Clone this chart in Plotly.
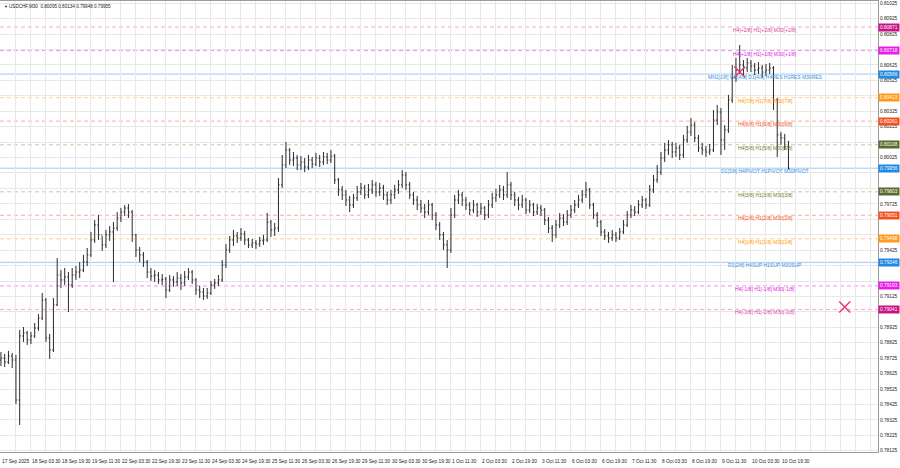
import plotly.graph_objects as go

# ---------------- data (USDCHF, candles of 4 x M30 bars) ----------------
first_open = 0.78713
closes = [
    0.78726, 0.78700, 0.78739, 0.78713, 0.78454, 0.78869, 0.78889, 0.78843, 0.78869, 0.78920,
    0.78985, 0.79102, 0.78856, 0.78778, 0.79070, 0.79264, 0.79232, 0.79251, 0.79200, 0.79264,
    0.79283, 0.79296, 0.79348, 0.79394, 0.79491, 0.79588, 0.79524, 0.79459, 0.79524, 0.79543,
    0.79568, 0.79633, 0.79672, 0.79698, 0.79672, 0.79524, 0.79426, 0.79394, 0.79348, 0.79283,
    0.79257, 0.79264, 0.79232, 0.79238, 0.79167, 0.79232, 0.79219, 0.79244, 0.79213, 0.79251,
    0.79283, 0.79232, 0.79167, 0.79154, 0.79128, 0.79148, 0.79200, 0.79213, 0.79232, 0.79329,
    0.79426, 0.79491, 0.79517, 0.79504, 0.79530, 0.79491, 0.79459, 0.79472, 0.79465, 0.79485,
    0.79491, 0.79607, 0.79556, 0.79568, 0.79848, 0.79977, 0.80074, 0.80009, 0.80022, 0.79977,
    0.79996, 0.79964, 0.80009, 0.79983, 0.80022, 0.79996, 0.80029, 0.80009, 0.80035, 0.79880,
    0.79815, 0.79783, 0.79750, 0.79718, 0.79763, 0.79802, 0.79828, 0.79783, 0.79815, 0.79848,
    0.79802, 0.79828, 0.79783, 0.79750, 0.79783, 0.79815, 0.79848, 0.79912, 0.79848, 0.79783,
    0.79750, 0.79718, 0.79698, 0.79672, 0.79718, 0.79653, 0.79588, 0.79524, 0.79459, 0.79426,
    0.79653, 0.79750, 0.79783, 0.79750, 0.79718, 0.79685, 0.79718, 0.79672, 0.79698, 0.79653,
    0.79718, 0.79763, 0.79783, 0.79815, 0.79783, 0.79848, 0.79783, 0.79750, 0.79718, 0.79750,
    0.79685, 0.79718, 0.79672, 0.79698, 0.79685, 0.79620, 0.79568, 0.79524, 0.79588, 0.79633,
    0.79607, 0.79653, 0.79685, 0.79718, 0.79750, 0.79783, 0.79815, 0.79718, 0.79653, 0.79607,
    0.79543, 0.79517, 0.79504, 0.79524, 0.79504, 0.79543, 0.79588, 0.79653, 0.79685, 0.79672,
    0.79718, 0.79750, 0.79718, 0.79815, 0.79880, 0.79931, 0.80022, 0.80074, 0.80107, 0.80061,
    0.80087, 0.80042, 0.80139, 0.80191, 0.80236, 0.80152, 0.80087, 0.80074, 0.80061, 0.80074,
    0.80268, 0.80320, 0.80139, 0.80204, 0.80398, 0.80541, 0.80592, 0.80625, 0.80605, 0.80638,
    0.80618, 0.80592, 0.80605, 0.80579, 0.80592, 0.80605, 0.80398, 0.80172, 0.80152, 0.80095,
    0.79955,
]
highs = [
    0.78765, 0.78752, 0.78772, 0.78759, 0.78746, 0.78908, 0.78927, 0.78902, 0.78895, 0.78953,
    0.79011, 0.79148, 0.79115, 0.78882, 0.79115, 0.79374, 0.79296, 0.79309, 0.79283, 0.79309,
    0.79322, 0.79348, 0.79394, 0.79439, 0.79543, 0.79620, 0.79653, 0.79517, 0.79556, 0.79581,
    0.79607, 0.79672, 0.79698, 0.79717, 0.79724, 0.79685, 0.79530, 0.79446, 0.79413, 0.79361,
    0.79309, 0.79296, 0.79283, 0.79270, 0.79251, 0.79264, 0.79257, 0.79283, 0.79270, 0.79290,
    0.79309, 0.79296, 0.79244, 0.79193, 0.79180, 0.79180, 0.79226, 0.79238, 0.79264, 0.79361,
    0.79465, 0.79517, 0.79556, 0.79543, 0.79568, 0.79550, 0.79504, 0.79498, 0.79491, 0.79511,
    0.79524, 0.79666, 0.79620, 0.79601, 0.79893, 0.80042, 0.80126, 0.80087, 0.80061, 0.80042,
    0.80035, 0.80022, 0.80042, 0.80029, 0.80055, 0.80042, 0.80061, 0.80055, 0.80074, 0.80048,
    0.79893, 0.79841, 0.79815, 0.79776, 0.79789, 0.79841, 0.79861, 0.79848, 0.79854, 0.79880,
    0.79867, 0.79861, 0.79848, 0.79802, 0.79815, 0.79848, 0.79880, 0.79944, 0.79931, 0.79867,
    0.79802, 0.79776, 0.79750, 0.79724, 0.79750, 0.79731, 0.79672, 0.79607, 0.79543, 0.79491,
    0.79698, 0.79783, 0.79815, 0.79802, 0.79770, 0.79737, 0.79750, 0.79731, 0.79731, 0.79711,
    0.79750, 0.79796, 0.79822, 0.79848, 0.79841, 0.79931, 0.79867, 0.79802, 0.79770, 0.79783,
    0.79763, 0.79750, 0.79731, 0.79724, 0.79718, 0.79698, 0.79640, 0.79588, 0.79620, 0.79666,
    0.79659, 0.79685, 0.79718, 0.79750, 0.79783, 0.79815, 0.79867, 0.79828, 0.79731, 0.79672,
    0.79620, 0.79562, 0.79543, 0.79556, 0.79543, 0.79568, 0.79620, 0.79679, 0.79718, 0.79711,
    0.79750, 0.79776, 0.79763, 0.79848, 0.79912, 0.79977, 0.80061, 0.80120, 0.80139, 0.80126,
    0.80120, 0.80107, 0.80172, 0.80230, 0.80281, 0.80255, 0.80172, 0.80120, 0.80100, 0.80113,
    0.80333, 0.80366, 0.80346, 0.80236, 0.80431, 0.80625, 0.80670, 0.80754, 0.80657, 0.80670,
    0.80657, 0.80638, 0.80644, 0.80625, 0.80631, 0.80638, 0.80618, 0.80411, 0.80191, 0.80178,
    0.80134,
]
lows = [
    0.78674, 0.78668, 0.78687, 0.78661, 0.78428, 0.78292, 0.78830, 0.78811, 0.78817, 0.78856,
    0.78902, 0.78972, 0.78830, 0.78720, 0.78765, 0.79063, 0.79180, 0.79200, 0.79024, 0.79180,
    0.79232, 0.79244, 0.79283, 0.79322, 0.79381, 0.79472, 0.79491, 0.79420, 0.79439, 0.79485,
    0.79219, 0.79550, 0.79607, 0.79646, 0.79633, 0.79478, 0.79381, 0.79348, 0.79316, 0.79244,
    0.79226, 0.79219, 0.79206, 0.79200, 0.79115, 0.79154, 0.79187, 0.79193, 0.79167, 0.79193,
    0.79232, 0.79206, 0.79135, 0.79115, 0.79102, 0.79109, 0.79135, 0.79174, 0.79193, 0.79219,
    0.79309, 0.79407, 0.79452, 0.79472, 0.79485, 0.79459, 0.79439, 0.79439, 0.79433, 0.79446,
    0.79459, 0.79478, 0.79511, 0.79517, 0.79543, 0.79828, 0.79957, 0.79977, 0.79970, 0.79944,
    0.79944, 0.79931, 0.79944, 0.79957, 0.79970, 0.79964, 0.79977, 0.79983, 0.79990, 0.79854,
    0.79776, 0.79750, 0.79711, 0.79672, 0.79698, 0.79744, 0.79783, 0.79757, 0.79763, 0.79789,
    0.79770, 0.79776, 0.79750, 0.79718, 0.79724, 0.79757, 0.79789, 0.79828, 0.79815, 0.79757,
    0.79718, 0.79685, 0.79666, 0.79633, 0.79653, 0.79620, 0.79556, 0.79491, 0.79426, 0.79309,
    0.79407, 0.79633, 0.79724, 0.79711, 0.79685, 0.79653, 0.79666, 0.79640, 0.79653, 0.79620,
    0.79633, 0.79698, 0.79737, 0.79763, 0.79750, 0.79763, 0.79750, 0.79711, 0.79685, 0.79698,
    0.79659, 0.79666, 0.79646, 0.79653, 0.79646, 0.79588, 0.79536, 0.79478, 0.79504, 0.79568,
    0.79581, 0.79588, 0.79633, 0.79666, 0.79698, 0.79731, 0.79763, 0.79692, 0.79627, 0.79575,
    0.79517, 0.79491, 0.79472, 0.79485, 0.79478, 0.79491, 0.79530, 0.79575, 0.79633, 0.79646,
    0.79659, 0.79698, 0.79692, 0.79705, 0.79796, 0.79861, 0.79912, 0.79996, 0.80042, 0.80022,
    0.80029, 0.80009, 0.80022, 0.80120, 0.80165, 0.80126, 0.80061, 0.80042, 0.80029, 0.80042,
    0.80061, 0.80236, 0.80042, 0.80074, 0.80185, 0.80379, 0.80515, 0.80567, 0.80560, 0.80579,
    0.80579, 0.80560, 0.80567, 0.80541, 0.80554, 0.80567, 0.80333, 0.80029, 0.80107, 0.80074,
    0.79948,
]
M30_PER_CANDLE = 4

x_labels = ["17 Sep 2025", "18 Sep 03:30", "18 Sep 19:30", "19 Sep 11:30", "22 Sep 03:30",
            "22 Sep 19:30", "23 Sep 11:30", "24 Sep 03:30", "24 Sep 19:30", "25 Sep 11:30",
            "26 Sep 03:30", "26 Sep 19:30", "29 Sep 11:30", "30 Sep 03:30", "30 Sep 19:30",
            "1 Oct 11:30", "2 Oct 03:30", "2 Oct 19:30", "3 Oct 11:30", "6 Oct 03:30",
            "6 Oct 19:30", "7 Oct 11:30", "8 Oct 03:30", "8 Oct 19:30", "9 Oct 11:30",
            "10 Oct 03:30", "10 Oct 19:30"]
M30_PER_LABEL = 32

price_grid = [0.78125, 0.78225, 0.78325, 0.78425, 0.78525, 0.78625, 0.78725, 0.78825,
              0.78925, 0.79025, 0.79125, 0.79225, 0.79325, 0.79425, 0.79525, 0.79625,
              0.79725, 0.79825, 0.79925, 0.80025, 0.80125, 0.80225, 0.80325, 0.80425,
              0.80525, 0.80625, 0.80725, 0.80825, 0.80925, 0.81025]

level_names = ["H4[+2/8] H1[+2/8] M30[+2/8]", "H4[+1/8] H1[+1/8] M30[+1/8]",
               "MN1[1/8] W1[4/8] D1[4/8] H4RES H1RES M30RES",
               "H4[7/8] H1[7/8] M30[7/8]", "H4[6/8] H1[6/8] M30[6/8]", "H4[5/8] H1[5/8] M30[5/8]",
               "D1[3/8] H4PIVOT H1PIVOT M30PIVOT",
               "H4[3/8] H1[3/8] M30[3/8]", "H4[2/8] H1[2/8] M30[2/8]", "H4[1/8] H1[1/8] M30[1/8]",
               "D1[2/8] H4SUP H1SUP M30SUP",
               "H4[-1/8] H1[-1/8] M30[-1/8]", "H4[-2/8] H1[-2/8] M30[-2/8]"]
level_prices = [0.80871, 0.80718, 0.80566, 0.80413, 0.80261, 0.80108, 0.79956,
                0.79803, 0.79651, 0.79498, 0.79346, 0.79193, 0.79041]
level_kinds = ["pink", "magenta", "blue", "orange", "red", "olive", "blue",
               "olive", "red", "orange", "blue", "magenta", "pink"]

signal_bars = [788, 900]
signal_prices = [0.80579, 0.79057]

title_text = "USDCHF,M30  0.80095 0.80134 0.79948 0.79955"

# ---------------- styles ----------------
STYLE = {
    "pink":    dict(line="#f4a6cf", dash="4px,3px", text="#e0409a", box="#c71585"),
    "magenta": dict(line="#f08cf0", dash="4px,3px", text="#e020e0", box="#e81ee8"),
    "blue":    dict(line="#9ec9f2", dash="solid",   text="#3a8fe0", box="#1e88e5"),
    "orange":  dict(line="#ffcf9a", dash="4px,3px", text="#ff9800", box="#ff9a1a"),
    "red":     dict(line="#ffad9a", dash="4px,3px", text="#f4511e", box="#f4511e"),
    "olive":   dict(line="#c9c9a6", dash="4px,3px", text="#6b7f2a", box="#5b6b2f"),
}
FONT = "Liberation Sans, Arial, sans-serif"
FS = 4.8
GRID = "#e8e8e8"

opens = [first_open] + closes[:-1]
bar_x = [k * M30_PER_CANDLE for k in range(len(closes))]

# price labels hidden under the level boxes (as the terminal does)
shown_ticks = [t for t in price_grid if min(abs(t - p) for p in level_prices) > 0.00035]

fig = go.Figure()
fig.add_trace(go.Ohlc(
    x=bar_x, open=opens, high=highs, low=lows, close=closes,
    increasing=dict(line=dict(color="#2a2a2a", width=1)),
    decreasing=dict(line=dict(color="#2a2a2a", width=1)),
    tickwidth=0.3, hoverinfo="skip", showlegend=False,
))

fig.add_trace(go.Scatter(
    x=signal_bars, y=signal_prices, mode="markers",
    marker=dict(symbol="x-thin", size=11, line=dict(width=1.4, color="#e8336d")),
    hoverinfo="skip", showlegend=False,
))

for name, price, kind in zip(level_names, level_prices, level_kinds):
    st = STYLE[kind]
    fig.add_shape(type="line", xref="paper", x0=0, x1=1, yref="y", y0=price, y1=price,
                  line=dict(color=st["line"], width=1, dash=st["dash"]), layer="below")
    fig.add_annotation(x=815, y=price, xref="x", yref="y", text=name, showarrow=False,
                       xanchor="center", yanchor="middle", yshift=-3,
                       font=dict(family=FONT, size=5, color=st["text"]))
    fig.add_annotation(x=1, y=price, xref="paper", yref="y", text=f"{price:.5f}",
                       showarrow=False, xanchor="left", yanchor="middle", xshift=0,
                       bgcolor=st["box"], borderpad=1,
                       font=dict(family=FONT, size=FS, color="white"))

for m, lab in enumerate(x_labels):
    fig.add_annotation(x=m * M30_PER_LABEL, y=0, xref="x", yref="paper", text=lab,
                       showarrow=False, xanchor="left", yanchor="top", yshift=-5, xshift=-1,
                       font=dict(family=FONT, size=FS, color="#222222"))

fig.add_annotation(x=0, y=1, xref="paper", yref="paper", text="▼", showarrow=False,
                   xanchor="left", yanchor="top", xshift=2, yshift=-1,
                   font=dict(family=FONT, size=4, color="#222222"))
fig.add_annotation(x=0, y=1, xref="paper", yref="paper", text=title_text, showarrow=False,
                   xanchor="left", yanchor="top", xshift=7, yshift=-1,
                   font=dict(family=FONT, size=4.6, color="#222222"))

fig.update_layout(
    width=900, height=468,
    margin=dict(l=0, r=22, t=1, b=16),
    paper_bgcolor="white", plot_bgcolor="white",
    showlegend=False,
    xaxis=dict(range=[-1, 935.5], rangeslider=dict(visible=False),
               tick0=0, dtick=16, showgrid=True, gridcolor=GRID, gridwidth=1,
               showticklabels=False, zeroline=False, ticks="",
               showline=True, mirror=True, linecolor="#9a9a9a", linewidth=1),
    yaxis=dict(range=[0.78117, 0.810395], side="right",
               tickmode="array", tickvals=shown_ticks, tickformat=".5f",
               showgrid=True, gridcolor=GRID, gridwidth=1, zeroline=False,
               minor=dict(tickmode="array", tickvals=price_grid, showgrid=True,
                          gridcolor=GRID, gridwidth=1, ticks=""),
               ticks="", tickfont=dict(family=FONT, size=FS, color="#222222"),
               showline=True, mirror=True, linecolor="#9a9a9a", linewidth=1),
)

fig.write_html("out.html", config={"displayModeBar": False},
               post_script="document.body.style.margin='0';document.body.style.overflow='hidden';")
